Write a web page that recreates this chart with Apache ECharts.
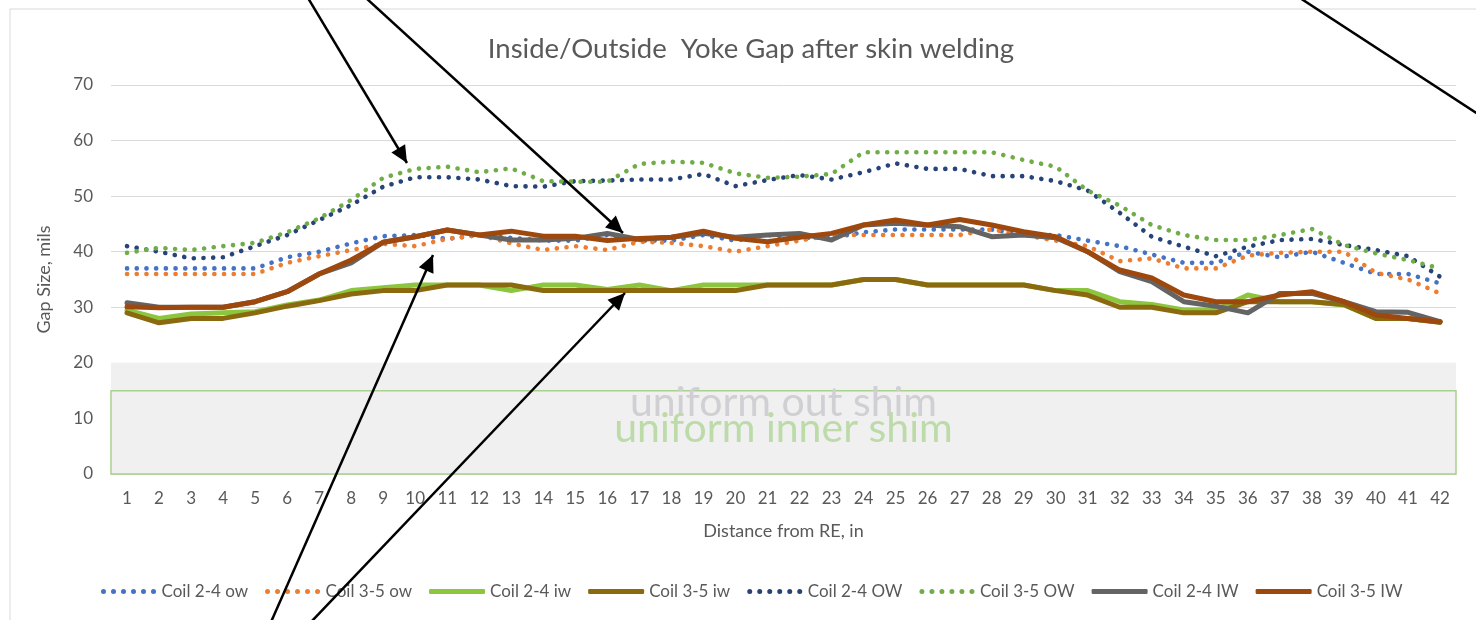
<!DOCTYPE html>
<html><head><meta charset="utf-8">
<script src="https://cdn.jsdelivr.net/npm/echarts@6/dist/echarts.min.js"></script>
<style>html,body{margin:0;padding:0;background:#fff}#c{width:1476px;height:620px}</style>
</head><body><div id="c"></div>
<script>
const categories = ['1','2','3','4','5','6','7','8','9','10','11','12','13','14','15','16','17','18','19','20','21','22','23','24','25','26','27','28','29','30','31','32','33','34','35','36','37','38','39','40','41','42'];
const yTicks = [0, 70, 10]; // min, max, interval

const coil24ow = [37,37,37,37,37,39,40,41.5,42.8,43,42.3,43,42.5,42,42,43,42,42,43,42,43,42.5,42.5,43.5,44,44,44,44,43,43,42,41,39.5,38,38,40,39,40,38,36,36,34.3];
const coil35ow = [36,36,36,36,36,38,39.2,40.3,41.4,41,42.3,43,41.5,40.3,41,40.3,41.8,41.6,41,40,41,42,43,43,43,43,43,44,43,42,41,38.3,38.8,37,37,39.3,39.8,40,40,36.2,35,32.5];
const coil24iw = [29.5,28,28.8,29,29.2,30.4,31.3,33,33.5,34,34,34,33,34,34,33.2,34,33,34,34,34,34,34,35,35,34,34,34,34,33,33,31,30.5,29.5,29.5,32.2,31,31,30.4,28,28,27.3];
const coil35iw = [29,27.2,28,28,29,30.2,31.2,32.4,33,33,34,34,34,33,33,33,33,33,33,33,34,34,34,35,35,34,34,34,34,33,32.2,30,30,29,29,31,31,31,30.5,28,28,27.3];
const coil24OW = [41,40,38.8,39,41,43,45.7,48.4,51.7,53.4,53.4,53,51.8,51.7,52.7,52.8,53,53,54,51.8,52.9,53.8,53,54.3,55.9,54.9,54.9,53.6,53.6,52.7,51,47,42.7,40.9,39.2,40.9,42.1,42.3,41.2,40.3,39.2,35.5];
const coil35OW = [39.8,40.7,40.3,41,41.6,43.5,46,49.3,53.3,54.9,55.3,54.3,55,52.7,52.6,52.6,55.8,56.2,56,54.1,53.3,53.5,54,57.9,57.9,57.9,57.9,57.9,56.5,55.3,51,48.3,44.8,43,42.1,42.1,43,44.1,41.2,39.7,38.5,37];
const coil24IW = [30.8,30,30,30,31,32.8,36,38,41.7,42.7,43.9,43,42.1,42.1,42.4,43.3,42.2,42.6,43.3,42.6,43,43.3,42.1,44.8,45.1,44.8,44.5,42.7,43,42.5,40,36.4,34.6,31,30.2,29,32.5,32.5,31,29.2,29.1,27.4];
const coil35IW = [30.1,29.9,30,30,31,32.8,36,38.5,41.7,42.7,43.9,43,43.7,42.8,42.8,42,42.4,42.6,43.7,42.4,41.8,42.6,43.3,44.8,45.7,44.8,45.8,44.8,43.6,42.7,40,36.7,35.3,32.2,31,31,32.2,32.8,31,28.6,28,27.4];

const seriesNames = ['Coil 2-4 ow','Coil 3-5 ow','Coil 2-4 iw','Coil 3-5 iw','Coil 2-4 OW','Coil 3-5 OW','Coil 2-4 IW','Coil 3-5 IW'];
const shimOut = [0, 20, 'uniform out shim'];
const shimIn = [0, 15, 'uniform inner shim'];

const FONT = 'Lato';
const TXT = '#595959';

function dotted(name, data, color) {
  return { name, type: 'line', data, symbol: 'none', z: 3,
    lineStyle: { color, width: 4.6, type: [0.1, 9.6], cap: 'round' }, itemStyle: { color } };
}
function solid(name, data, color) {
  return { name, type: 'line', data, symbol: 'none', z: 3,
    lineStyle: { color, width: 5, cap: 'round', join: 'round' }, itemStyle: { color } };
}

const series = [
  dotted(seriesNames[0], coil24ow, '#4472C4'),
  dotted(seriesNames[1], coil35ow, '#ED7D31'),
  solid(seriesNames[2], coil24iw, '#8CC63F'),
  solid(seriesNames[3], coil35iw, '#8B6A0F'),
  dotted(seriesNames[4], coil24OW, '#264478'),
  dotted(seriesNames[5], coil35OW, '#70AD47'),
  solid(seriesNames[6], coil24IW, '#646464'),
  solid(seriesNames[7], coil35IW, '#9E480E')
];
series[0].markArea = {
  silent: true,
  data: [
    [{ yAxis: shimOut[0], itemStyle: { color: '#F0F0F0' },
       label: { show: true, position: 'inside', offset: [0, -16], formatter: shimOut[2], color: '#CFCFD4', fontSize: 41, fontFamily: FONT } },
     { yAxis: shimOut[1] }],
    [{ yAxis: shimIn[0], itemStyle: { color: 'rgba(0,0,0,0)', borderColor: '#A9D18E', borderWidth: 1.5 },
       label: { show: true, position: 'inside', offset: [0, -4], formatter: shimIn[2], color: '#BCDBA9', fontSize: 41, fontFamily: FONT } },
     { yAxis: shimIn[1] }]
  ]
};

// legend icons
let dotsPath = 'path://';
for (let i = 0; i < 6; i++) {
  const cx = 2.5 + i * 10;
  dotsPath += 'M' + (cx - 2.5) + ' 2.5A2.5 2.5 0 1 0 ' + (cx + 2.5) + ' 2.5A2.5 2.5 0 1 0 ' + (cx - 2.5) + ' 2.5Z';
}
const legendData = seriesNames.map((n, i) => ({ name: n, icon: [0, 1, 4, 5].includes(i) ? dotsPath : 'roundRect' }));

function arrow(x1, y1, x2, y2, head) {
  const els = [{ type: 'line', shape: { x1, y1, x2, y2 }, style: { stroke: '#000', lineWidth: 2.5 }, z: 100 }];
  if (head) {
    const a = Math.atan2(y2 - y1, x2 - x1), L = 17, W = 8;
    const bx = x2 - L * Math.cos(a), by = y2 - L * Math.sin(a);
    els.push({ type: 'polygon', z: 101, shape: { points: [[x2, y2],
      [bx + W * Math.sin(a), by - W * Math.cos(a)], [bx - W * Math.sin(a), by + W * Math.cos(a)]] },
      style: { fill: '#000' } });
  }
  return els;
}

const graphic = [
  { type: 'rect', shape: { x: 10, y: 9, width: 1600, height: 800 }, style: { fill: 'none', stroke: '#D9D9D9', lineWidth: 1 }, z: 0, silent: true },
  ...arrow(308, -2, 407, 163, true),
  ...arrow(366, -2, 623, 233, true),
  ...arrow(1300, -2, 1478, 114, false),
  ...arrow(271, 622, 433, 255, true),
  ...arrow(311, 622, 625, 293, true)
];

const chart = echarts.init(document.getElementById('c'), null, { renderer: 'canvas' });
chart.setOption({
  backgroundColor: '#fff',
  animation: false,
  textStyle: { fontFamily: FONT },
  title: { text: 'Inside/Outside  Yoke Gap after skin welding', left: 746, top: 30, textAlign: 'center',
    textStyle: { color: TXT, fontSize: 27.5, fontWeight: 'normal', fontFamily: FONT } },
  grid: { left: 111, right: 20, top: 85, bottom: 146 },
  legend: { top: 578, left: 96, itemWidth: 56, itemHeight: 5, itemGap: 17,
    textStyle: { color: TXT, fontSize: 17, fontFamily: FONT }, data: legendData },
  xAxis: { type: 'category', data: categories, boundaryGap: true,
    name: 'Distance from RE, in', nameLocation: 'middle', nameGap: 48,
    nameTextStyle: { color: TXT, fontSize: 18, fontFamily: FONT },
    axisLine: { lineStyle: { color: '#D9D9D9' } }, axisTick: { show: false },
    axisLabel: { color: TXT, fontSize: 17, interval: 0, margin: 16, fontFamily: FONT } },
  yAxis: { type: 'value', min: yTicks[0], max: yTicks[1], interval: yTicks[2],
    name: 'Gap Size, mils', nameLocation: 'middle', nameGap: 58, nameRotate: 90,
    nameTextStyle: { color: TXT, fontSize: 18, fontFamily: FONT },
    axisLine: { show: false }, axisTick: { show: false },
    splitLine: { lineStyle: { color: '#D9D9D9', width: 1 } },
    axisLabel: { color: TXT, fontSize: 17, margin: 18, fontFamily: FONT } },
  series,
  graphic
});
</script></body></html>
